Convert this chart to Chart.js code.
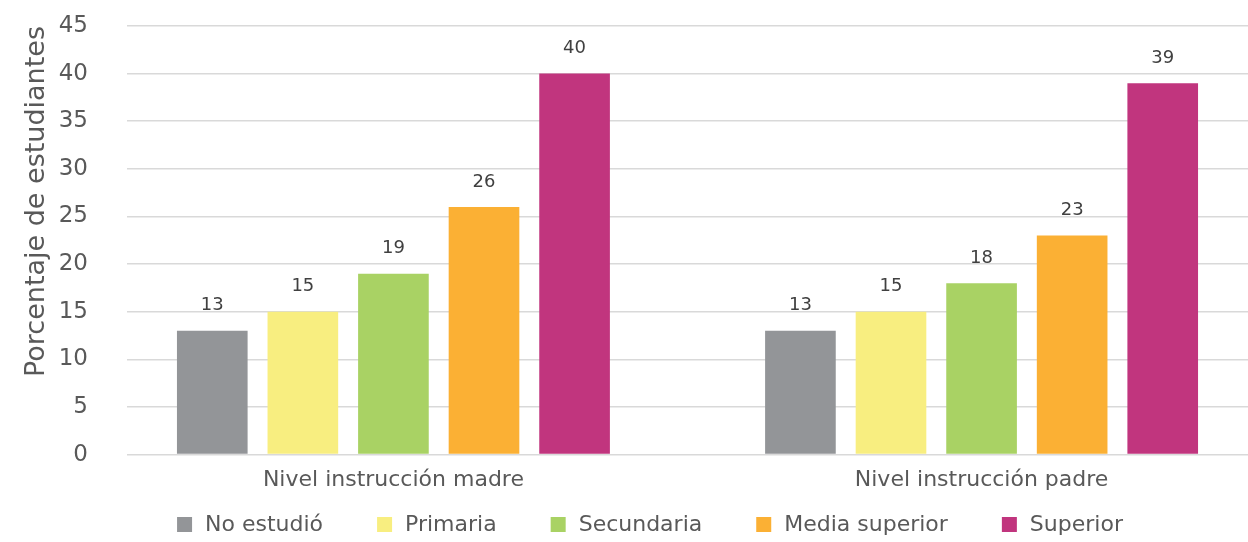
<!DOCTYPE html>
<html>
<head>
<meta charset="utf-8">
<script src="https://cdn.jsdelivr.net/npm/chart.js@4/dist/chart.umd.min.js"></script>
<style>
  body { margin: 0; background: #fff; }
</style>
</head>
<body>
<canvas id="nivelChart" width="1248" height="542"></canvas>
<script>
const groups = ['Nivel instrucción madre', 'Nivel instrucción padre'];
const series = ['No estudió', 'Primaria', 'Secundaria', 'Media superior', 'Superior'];
const noEstudio = [13, 13];
const primaria = [15, 15];
const secundaria = [19, 18];
const mediaSuperior = [26, 23];
const superior = [40, 39];
const colors = ['#939598', '#f8ee80', '#a9d264', '#fbb034', '#c1357e'];

const FONT = '"DejaVu Sans", sans-serif';
const values = [noEstudio, primaria, secundaria, mediaSuperior, superior];

// group index i is placed at x = i on a linear axis so the groups can sit off-centre
const datasets = series.map(function (name, s) {
    return {
        label: name,
        data: values[s].map(function (v, i) { return { x: i, y: v }; }),
        backgroundColor: colors[s],
        borderWidth: 0,
        categoryPercentage: 0.77,
        barPercentage: 0.78,
    };
});

// value above every bar
const barLabels = {
    id: 'barLabels',
    afterDatasetsDraw(chart) {
        const ctx = chart.ctx;
        ctx.save();
        ctx.font = '18px ' + FONT;
        ctx.fillStyle = '#404040';
        ctx.textAlign = 'center';
        ctx.textBaseline = 'middle';
        chart.data.datasets.forEach(function (ds, d) {
            chart.getDatasetMeta(d).data.forEach(function (bar, i) {
                ctx.fillText(ds.data[i].y, bar.x, bar.y - 25);
            });
        });
        ctx.restore();
    }
};

// legend row with wide gaps between entries
const wideLegend = {
    id: 'wideLegend',
    afterDraw(chart, args, opts) {
        const ctx = chart.ctx;
        ctx.save();
        ctx.font = '22px ' + FONT;
        ctx.textBaseline = 'middle';
        const items = chart.data.datasets.map(function (ds) {
            return { text: ds.label, color: ds.backgroundColor, w: 15 + 13 + ctx.measureText(ds.label).width };
        });
        const total = items.reduce(function (a, it) { return a + it.w; }, 0) + opts.gap * (items.length - 1);
        let x = opts.centerX - total / 2;
        items.forEach(function (it) {
            ctx.fillStyle = it.color;
            ctx.fillRect(x, opts.y - 8, 15, 15);
            ctx.fillStyle = '#595959';
            ctx.fillText(it.text, x + 28, opts.y);
            x += it.w + opts.gap;
        });
        ctx.restore();
    }
};

new Chart(document.getElementById('nivelChart'), {
    type: 'bar',
    data: { datasets: datasets },
    plugins: [barLabels, wideLegend],
    options: {
        responsive: false,
        devicePixelRatio: 1,
        animation: false,
        layout: { padding: { top: 26, left: 17, right: 0, bottom: 45 } },
        plugins: {
            legend: { display: false },
            tooltip: { enabled: false },
            wideLegend: { centerX: 650, y: 525, gap: 54 },
        },
        scales: {
            x: {
                type: 'linear',
                offset: false,
                min: -0.453,
                max: 1.453,
                afterBuildTicks: function (axis) {
                    axis.ticks = [{ value: 0 }, { value: 1 }];
                },
                ticks: {
                    autoSkip: false,
                    maxRotation: 0,
                    padding: 4,
                    color: '#595959',
                    font: { family: FONT, size: 22 },
                    callback: function (v) { return groups[v]; },
                },
                grid: { display: false },
                border: { display: false },
            },
            y: {
                min: 0,
                max: 45,
                ticks: {
                    stepSize: 5,
                    padding: 3,
                    color: '#595959',
                    font: { family: FONT, size: 23 },
                },
                // invisible tick marks keep the labels away from the grid
                grid: { color: '#d9d9d9', lineWidth: 1.5, drawTicks: true, tickLength: 36, tickColor: 'rgba(0,0,0,0)' },
                border: { display: false },
                title: {
                    display: true,
                    text: 'Porcentaje de estudiantes',
                    align: 'end',
                    color: '#595959',
                    font: { family: FONT, size: 27 },
                },
                afterFit: function (scale) { scale.width = 110; },
            },
        },
    },
});
</script>
</body>
</html>
